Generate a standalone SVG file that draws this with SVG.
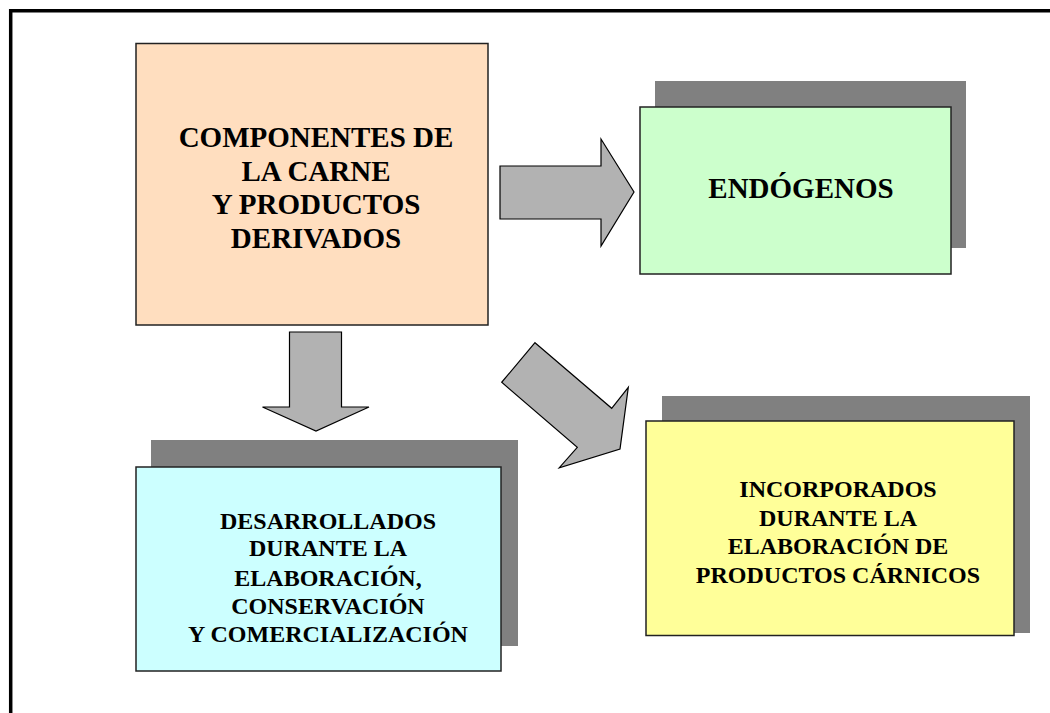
<svg xmlns="http://www.w3.org/2000/svg" width="1050" height="713" viewBox="0 0 1050 713">
  <style>
    .box { stroke: #222; stroke-width: 1.5; }
    .shadow { fill: #808080; }
    .arrow { fill: #B2B2B2; stroke: #000; stroke-width: 1.2; stroke-linejoin: miter; }
    .t { font-family: "Liberation Serif", "Times New Roman", serif; font-weight: bold; fill: #000; text-anchor: middle; }
    .big { font-size: 29px; }
    .mid { font-size: 24px; }
  </style>
  <rect x="0" y="0" width="1050" height="713" fill="#FFFFFF"/>
  <path d="M10.7 713 V10.7 H1050" fill="none" stroke="#000" stroke-width="3.5"/>

  <g id="node-componentes">
    <rect class="box" x="136" y="43.5" width="352" height="281.5" fill="#FFDEBF"/>
    <text class="t big" x="316" y="146.7">COMPONENTES DE</text>
    <text class="t big" x="316" y="181">LA CARNE</text>
    <text class="t big" x="316" y="214">Y PRODUCTOS</text>
    <text class="t big" x="316" y="248">DERIVADOS</text>
  </g>

  <g id="node-endogenos">
    <rect class="shadow" x="655" y="81" width="311" height="167"/>
    <rect class="box" x="640" y="107" width="311" height="167" fill="#CCFFCC"/>
    <text class="t big" x="801" y="198">ENDÓGENOS</text>
  </g>

  <g id="node-desarrollados">
    <rect class="shadow" x="151" y="440" width="367" height="206"/>
    <rect class="box" x="136" y="467" width="365" height="204" fill="#CCFFFF"/>
    <text class="t mid" x="328" y="529">DESARROLLADOS</text>
    <text class="t mid" x="328" y="556">DURANTE LA</text>
    <text class="t mid" x="328" y="586">ELABORACIÓN,</text>
    <text class="t mid" x="328" y="614">CONSERVACIÓN</text>
    <text class="t mid" x="328" y="642">Y COMERCIALIZACIÓN</text>
  </g>

  <g id="node-incorporados">
    <rect class="shadow" x="662" y="396" width="368" height="237"/>
    <rect class="box" x="646" y="421" width="368" height="214.5" fill="#FFFF99"/>
    <text class="t mid" x="838" y="497">INCORPORADOS</text>
    <text class="t mid" x="838" y="526">DURANTE LA</text>
    <text class="t mid" x="838" y="554">ELABORACIÓN DE</text>
    <text class="t mid" x="838" y="582.5">PRODUCTOS CÁRNICOS</text>
  </g>

  <g id="connectors">
    <polygon class="arrow" points="500,166 601,166 601,139 634,192 601,246 601,219 500,219"/>
    <polygon class="arrow" points="289.5,332 341.5,332 341.5,407 369,407 316,431 262.5,407 289.5,407"/>
    <polygon class="arrow" points="535,342.7 611.7,408.3 628.3,387.3 620,449 559.3,467.7 577.3,447.3 501.7,382.3"/>
  </g>
</svg>
